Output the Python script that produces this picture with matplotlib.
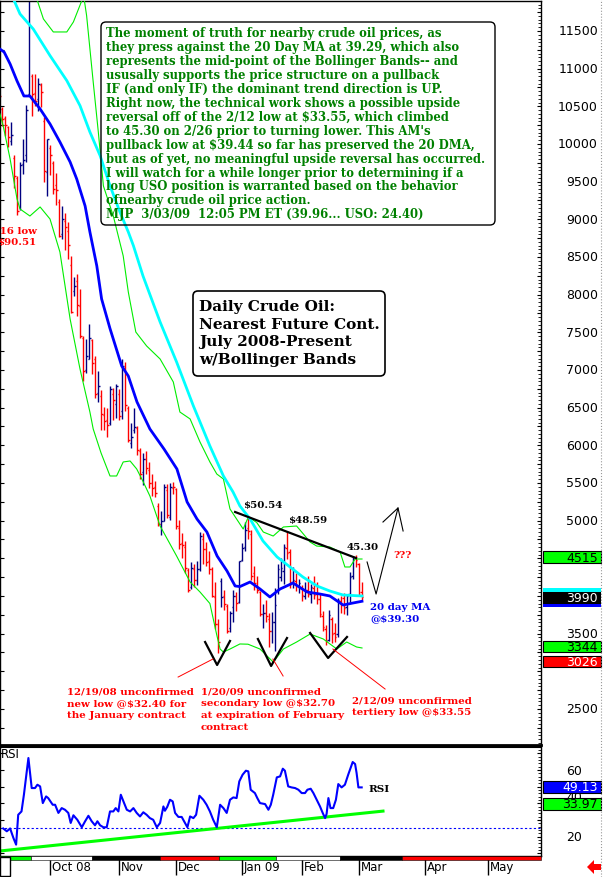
import matplotlib
matplotlib.use("Agg")
import matplotlib.pyplot as plt
from matplotlib.patches import FancyBboxPatch, Rectangle, Polygon
from matplotlib.lines import Line2D
from matplotlib.ticker import MultipleLocator
from matplotlib.transforms import blended_transform_factory, IdentityTransform
import numpy as np

W, H = 603, 878

# daily bars 9/08/08 .. 3/03/09, nearest crude oil future ($/bbl)
opens = [107.9, 104.6, 103.5, 102.3, 100.4, 98.2, 95.5, 91.6, 97.3, 98.5,
         106.6, 109.0, 106.8, 106.0, 107.8, 103.0, 96.3, 99.5, 97.5, 94.5,
         92.3, 88.0, 89.8, 88.5, 84.0, 80.5, 81.8, 78.5, 74.3, 70.0,
         71.5, 74.0, 71.5, 66.9, 66.5, 64.0, 63.3, 63.0, 66.8, 65.5,
         66.8, 64.5, 70.3, 65.0, 60.3, 62.0, 62.3, 59.2, 56.4, 58.2,
         56.7, 55.0, 54.5, 51.9, 49.5, 50.0, 54.1, 50.5, 54.4, 54.2,
         49.0, 47.0, 46.5, 43.5, 41.2, 43.6, 42.1, 43.6, 47.6, 46.3,
         44.6, 43.6, 39.9, 36.3, 42.0, 40.0, 38.7, 35.8, 38.5, 40.0,
         39.2, 44.8, 46.5, 49.0, 48.2, 43.1, 41.5, 40.5, 37.6, 37.8,
         37.0, 35.3, 36.6, 40.8, 42.5, 43.3, 46.4, 45.9, 41.8, 42.0,
         41.3, 41.1, 40.0, 40.8, 40.2, 41.1, 40.2, 39.6, 37.4, 35.6,
         34.2, 37.0, 35.1, 34.9, 39.3, 39.7, 38.5, 40.3, 42.6, 45.0,
         44.3, 40.5]
highs = [108.8, 104.9, 103.7, 102.4, 102.9, 98.5, 95.8, 97.6, 100.6, 105.2,
         130.0, 109.3, 109.3, 108.7, 108.1, 103.6, 100.7, 99.8, 97.8, 96.2,
         92.7, 91.8, 90.9, 89.6, 85.1, 82.4, 82.7, 80.7, 74.5, 74.1,
         76.1, 74.1, 71.9, 69.8, 67.3, 65.1, 64.9, 67.9, 67.6, 68.1,
         67.5, 71.4, 71.0, 65.2, 63.0, 65.0, 62.6, 59.6, 59.0, 59.3,
         57.8, 56.2, 55.2, 52.3, 51.3, 54.8, 54.9, 55.0, 55.1, 54.4,
         50.1, 48.4, 47.3, 43.7, 44.5, 44.3, 44.7, 48.5, 48.4, 47.2,
         46.0, 43.8, 41.9, 36.9, 42.4, 40.8, 39.0, 38.0, 40.8, 40.5,
         44.7, 47.1, 49.8, 50.54, 48.7, 44.0, 42.6, 40.6, 38.9, 39.5,
         37.7, 37.9, 41.0, 44.2, 45.0, 46.9, 48.59, 46.2, 43.8, 43.0,
         42.3, 41.4, 41.9, 42.7, 41.6, 42.6, 41.9, 40.3, 38.0, 36.2,
         38.1, 37.2, 36.4, 39.7, 40.0, 40.4, 40.3, 43.2, 45.30, 45.4,
         44.4, 41.9]
lows = [104.6, 102.4, 101.1, 99.6, 99.8, 94.1, 90.51, 91.3, 96.0, 97.6,
        106.4, 103.7, 105.0, 104.4, 104.9, 95.0, 93.1, 95.9, 93.4, 91.9,
        87.6, 87.4, 85.9, 84.7, 77.6, 79.8, 77.2, 74.3, 68.6, 69.6,
        71.4, 69.5, 66.3, 65.8, 62.0, 62.0, 61.1, 62.7, 63.3, 63.6,
        63.4, 63.5, 64.6, 60.5, 59.7, 61.6, 58.7, 55.5, 54.7, 56.2,
        54.3, 53.3, 53.1, 49.3, 48.1, 49.9, 50.3, 50.1, 53.5, 48.9,
        46.2, 45.1, 43.1, 40.5, 40.9, 41.2, 41.5, 43.3, 44.2, 44.0,
        42.9, 39.9, 35.6, 32.40, 38.6, 38.2, 35.1, 35.2, 36.5, 38.0,
        39.1, 44.6, 46.0, 47.5, 42.1, 40.8, 40.4, 37.3, 35.8, 36.6,
        33.2, 33.7, 32.70, 40.3, 42.0, 41.6, 44.9, 41.1, 41.0, 40.6,
        40.4, 39.4, 39.6, 39.8, 39.1, 39.6, 38.9, 37.2, 35.3, 33.55,
        34.0, 33.7, 33.9, 34.5, 37.7, 37.6, 37.5, 39.2, 42.3, 43.8,
        40.0, 39.44]
closes = [106.34, 103.26, 102.58, 100.87, 101.18, 95.71, 91.15, 97.16, 97.88, 104.55,
          120.92, 106.61, 105.73, 108.02, 106.89, 96.37, 100.64, 98.53, 93.97, 93.88,
          87.81, 90.06, 88.95, 86.59, 77.70, 81.19, 78.63, 74.54, 69.85, 71.85,
          74.25, 70.89, 66.75, 67.84, 64.15, 63.22, 62.73, 67.50, 65.96, 67.81,
          63.91, 70.53, 65.30, 60.77, 61.04, 62.41, 59.33, 56.16, 58.24, 57.04,
          54.95, 54.39, 53.62, 49.62, 49.93, 54.50, 50.77, 54.44, 54.43, 49.28,
          46.96, 46.79, 43.67, 40.81, 43.71, 42.07, 43.52, 47.98, 46.28, 44.51,
          43.60, 40.06, 36.22, 33.87, 39.91, 38.98, 35.35, 37.71, 40.02, 39.03,
          44.60, 46.34, 48.81, 48.58, 42.63, 41.70, 40.83, 37.59, 37.78, 37.28,
          35.40, 36.51, 38.74, 43.55, 43.67, 46.47, 45.73, 41.58, 42.16, 41.44,
          41.68, 40.08, 40.78, 40.32, 41.17, 40.17, 39.56, 37.55, 35.94, 33.98,
          37.51, 34.93, 34.62, 39.48, 38.94, 38.44, 39.96, 42.50, 45.22, 44.76,
          40.15, 39.90]

# indicator lines: bar index -> value (chart units)
ma20_idx = [0.3, 1.7, 3.7, 6.0, 8.3, 10.3, 13.7, 17.0, 20.3, 23.7, 25.9, 28.7, 30.3,
            32.6, 34.2, 37.0, 40.9, 43.1, 46.0, 50.3, 55.0, 59.3, 62.7, 66.0, 69.3,
            72.7, 76.0, 78.7, 80.3, 83.7, 87.0, 90.3, 93.7, 98.0, 102.7, 107.0,
            110.3, 114.7, 118.0, 121.0]
ma20_val = [11260, 11221, 11062, 10837, 10637, 10637, 10465, 10266, 10027, 9761, 9536,
            9177, 8832, 8381, 7943, 7550, 7053, 6920, 6575, 6217, 5951, 5686, 5248,
            5022, 4849, 4531, 4332, 4133, 4125, 4186, 4093, 3987, 4093, 4172, 4053,
            4026, 4000, 3880, 3907, 3930]

ma50_idx = [0.3, 4.8, 7.0, 11.4, 17.0, 22.6, 27.0, 30.3, 33.7, 37.0, 40.3, 43.1,
            44.8, 48.0, 53.7, 59.2, 64.8, 70.3, 74.8, 78.0, 80.3, 83.7, 88.0, 92.7,
            97.0, 101.3, 106.0, 110.3, 114.7, 121.0]
ma50_val = [12300, 11925, 11726, 11527, 11173, 10841, 10509, 10159, 9845, 9447, 9097,
            8832, 8650, 8248, 7637, 7106, 6522, 5991, 5593, 5381, 5195, 5022, 4730,
            4518, 4385, 4252, 4133, 4066, 4013, 4000]

bb_up_idx = [0.3, 6.0, 11.0, 12.6, 14.8, 18.1, 22.6, 24.8, 27.6, 28.1, 29.2, 31.4,
             33.1, 34.8, 38.1, 41.4, 43.1, 45.6, 49.2, 53.7, 58.1, 60.3, 63.7, 67.0,
             70.3, 72.6, 74.8, 77.0, 79.2, 81.4, 83.1, 85.9, 88.1, 91.4, 94.8, 99.2,
             100.9, 103.7, 105.9, 110.3, 113.7, 115.3, 117.0, 118.7, 121.0]
bb_up_val = [12600, 12400, 12050, 11925, 11660, 11487, 11487, 11620, 11903, 12000,
             11704, 10823, 10160, 9443, 9044, 8514, 8035, 7504, 7319, 7146, 6841, 6442,
             6350, 6044, 5779, 5619, 5553, 5155, 5022, 4889, 5048, 4976, 4849, 4796,
             4916, 4929, 4849, 4716, 4663, 4650, 4584, 4385, 4385, 4491, 4491]

bb_lo_idx = [0.3, 1.4, 3.7, 6.0, 7.0, 10.3, 13.7, 17.0, 20.3, 23.7, 27.0, 30.3, 31.4,
             34.0, 37.0, 39.2, 41.4, 43.7, 45.9, 48.1, 50.3, 53.7, 59.2, 63.7, 67.0,
             70.3, 72.6, 73.7, 74.8, 77.0, 80.3, 83.0, 87.0, 91.4, 94.8, 99.2, 103.7,
             108.1, 112.6, 115.9, 119.2, 121.0]
bb_lo_val = [10400, 10239, 9801, 9270, 9137, 9044, 9164, 9004, 8566, 7677, 7013, 6442,
             6217, 5900, 5593, 5593, 5779, 5792, 5686, 5513, 5327, 4929, 4531, 4186,
             4053, 3900, 3480, 3296, 3256, 3296, 3363, 3360, 3296, 3123, 3296, 3389,
             3495, 3429, 3296, 3389, 3323, 3310]

rsi_idx = [1.4, 2.6, 3.7, 4.8, 5.7, 6.4, 7.5, 8.3, 9.8, 10.9, 12.0, 12.8, 13.7, 14.6,
           15.7, 16.4, 17.9, 18.7, 19.8, 20.9, 22.0, 23.1, 23.9, 24.8, 26.1, 27.6,
           28.7, 29.8, 30.9, 32.0, 32.8, 33.7, 34.8, 35.9, 37.0, 38.1, 38.9, 39.8,
           40.6, 41.7, 42.6, 43.7, 44.8, 45.9, 47.0, 48.1, 49.2, 50.3, 51.4, 52.6,
           53.7, 54.8, 55.3, 56.1, 57.0, 57.9, 58.7, 59.8, 60.9, 62.0, 62.8, 63.7,
           64.8, 65.7, 66.8, 68.1, 69.2, 70.3, 71.4, 72.6, 73.7, 74.8, 75.9, 77.0,
           78.1, 79.2, 80.1, 81.2, 82.3, 83.1, 83.9, 85.3, 86.1, 87.0, 88.7, 89.8,
           90.6, 91.4, 92.6, 93.7, 94.6, 95.3, 96.4, 97.5, 98.7, 99.8, 100.9, 102.0,
           102.8, 103.9, 104.8, 105.9, 107.0, 107.9, 108.7, 109.2, 109.8, 110.5,
           111.4, 112.3, 113.1, 114.2, 115.3, 116.4, 117.9, 118.7, 119.2, 119.8, 120.9]
rsi_val = [25.0, 23.3, 25.0, 19.3, 15.3, 33.2, 35.2, 45.2, 67.2, 49.2, 49.2, 51.2, 50.2,
           40.2, 44.2, 43.2, 39.2, 39.2, 34.3, 37.2, 36.2, 34.3, 28.3, 32.9, 30.2, 25.7,
           29.3, 32.6, 29.3, 26.9, 29.3, 26.9, 25.7, 25.7, 35.2, 35.2, 37.2, 35.2, 45.2,
           40.2, 36.2, 35.2, 37.2, 34.3, 32.2, 34.7, 33.2, 31.2, 30.2, 25.7, 28.3, 38.2,
           35.6, 38.0, 42.2, 41.2, 34.3, 31.9, 31.9, 28.3, 25.7, 32.2, 31.2, 33.2, 44.6,
           42.2, 39.2, 35.2, 30.2, 25.7, 39.2, 37.2, 34.3, 42.2, 43.6, 43.2, 53.2, 57.2,
           59.6, 59.2, 48.2, 46.2, 43.2, 40.2, 39.6, 36.2, 39.2, 45.2, 55.6, 56.2, 60.8,
           59.6, 50.2, 49.6, 49.2, 48.2, 46.2, 46.2, 48.2, 48.8, 46.2, 42.2, 38.2, 34.3,
           31.2, 33.7, 43.2, 37.2, 37.2, 42.2, 51.6, 49.6, 51.2, 57.2, 64.8, 63.6, 58.2,
           49.6, 49.6]

month_names = ["Oct 08", "Nov", "Dec", "Jan 09", "Feb", "Mar", "Apr", "May"]
month_idx = [17, 40, 59, 81, 101, 120, 142, 163]
price_ticks = [2500, 3500, 5000, 5500, 6000, 6500, 7000, 7500, 8000, 8500, 9000,
               9500, 10000, 10500, 11000, 11500]
rsi_ticks = [20, 40, 60]
# contract roll bands along the date axis
roll_idx = [0.33, 10.5, 31, 53.5, 73.2, 92.3, 113.8, 134.3, 180.67]
roll_colors = ["#00ff00", "white", "black", "red", "#00ff00", "white", "black", "red"]

SERIF = "DejaVu Serif"
SANS = "DejaVu Sans"


def px(x, y):
    # pixel position (from top-left) -> figure fraction
    return x / W, 1 - y / H


def put(x, y, s, **kw):
    fx, fy = px(x, y)
    kw.setdefault("va", "center")
    kw.setdefault("ha", "left")
    return fig.text(fx, fy, s, parse_math=False, **kw)


def pbox(x0, y0, x1, y1, **kw):
    # box in pixel coords
    r = Rectangle((x0, H - y1), x1 - x0, y1 - y0, transform=IdentityTransform(), **kw)
    fig.add_artist(r)
    return r


fig = plt.figure(figsize=(W / 100, H / 100), dpi=100)
fig.patch.set_facecolor("white")

ax = fig.add_axes([0, 1 - 746 / H, 541 / W, 744 / H])
ax2 = fig.add_axes([0, 1 - 857 / H, 541 / W, 109 / H])
for a in (ax, ax2):
    a.set_xlim(0.33, 180.67)
    a.set_facecolor("white")
ax.set_ylim(2022, 11898)
ax2.set_ylim(8.5, 73.8)

# ---- price bars ----
idx = np.arange(len(closes))
o = np.array(opens) * 100
h = np.array(highs) * 100
l = np.array(lows) * 100
c = np.array(closes) * 100
cols = ["#ff0000" if (i == 0 or c[i] < c[i - 1]) else "#000080" for i in idx]
ax.vlines(idx, l, h, colors=cols, lw=1.0, zorder=2)
ax.hlines(o, idx - 0.5, idx, colors=cols, lw=1.0, zorder=2)
ax.hlines(c, idx, idx + 0.5, colors=cols, lw=1.0, zorder=2)

ax.plot(bb_up_idx, bb_up_val, color="#00ee00", lw=0.8, zorder=3)
ax.plot(bb_lo_idx, bb_lo_val, color="#00ee00", lw=0.8, zorder=3)
ax.plot(ma50_idx, ma50_val, color="#00ffff", lw=2.0, zorder=3)
ax.plot(ma20_idx, ma20_val, color="#0000ff", lw=2.0, zorder=4)

# trend line over the highs, and the hand drawn marks
ax.plot([78.7, 119.0], [5115, 4504], color="black", lw=1.6, zorder=5)
ax.plot([122.7, 125.7, 133.0], [4451, 4026, 5168], color="black", lw=0.8, zorder=5)
ax.plot([128.0, 133.0, 134.7], [4982, 5168, 4863], color="black", lw=0.8, zorder=5)
for vx, vy in [([68.7, 72.7, 77.0], [3389, 3084, 3403]),
               ([86.3, 90.7, 96.0], [3429, 3071, 3442]),
               ([103.7, 109.7, 116.0], [3509, 3177, 3456])]:
    ax.plot(vx, vy, color="black", lw=1.6, zorder=5)
for lx, ly in [([71.3, 59.7], [3163, 2924]), ([91.3, 94.7], [3163, 2938]),
               ([111.3, 128.7], [3296, 2765])]:
    ax.plot(lx, ly, color="red", lw=0.7, zorder=5)

# ---- RSI ----
ax2.plot(rsi_idx, rsi_val, color="#0000ff", lw=1.5, zorder=3)
ax2.plot([0.33, 128], [11.5, 35.4], color="#00ff00", lw=2.2, zorder=2)
ax2.axhline(25, color="#0000ff", lw=0.8, ls=(0, (2, 2)), zorder=1)

# axes cosmetics
for a in (ax, ax2):
    for s in a.spines.values():
        s.set_color("black")
        s.set_linewidth(1.0)
ax.spines["bottom"].set_linewidth(2.0)
ax2.spines["top"].set_linewidth(1.5)
ax.set_xticks([])
ax.set_yticks(np.arange(2250, 11900, 250))
ax.yaxis.set_minor_locator(MultipleLocator(50))
ax.tick_params(axis="y", direction="in", length=3, left=True, right=True,
               labelleft=False, labelright=False)
ax.tick_params(axis="y", which="minor", direction="in", length=2, left=False, right=True)
ax2.set_yticks(np.arange(10, 71, 10))
ax2.yaxis.set_minor_locator(MultipleLocator(2))
ax2.tick_params(axis="y", direction="in", length=3, left=True, right=True,
                labelleft=False, labelright=False)
ax2.tick_params(axis="y", which="minor", direction="in", length=2, left=False, right=True)
ax2.set_xticks(month_idx)
ax2.set_xticklabels([])
ax2.tick_params(axis="x", direction="out", length=14, width=1.0)

tr = blended_transform_factory(fig.transFigure, ax.transData)
for v in price_ticks:
    ax.text(598 / W, v, str(v), transform=tr, ha="right", va="center",
            fontsize=9, family=SANS)
tr2 = blended_transform_factory(fig.transFigure, ax2.transData)
for v in rsi_ticks:
    # the 40 label sits squeezed between the two value boxes
    ax2.text(582 / W, v, str(v), transform=tr2, ha="right",
             va="bottom" if v == 40 else "center", fontsize=9, family=SANS)

trm = blended_transform_factory(ax2.transData, fig.transFigure)
for name, m in zip(month_names, month_idx):
    ax2.text(m + 0.6, 1 - 868 / H, name, transform=trm, ha="left", va="center",
             fontsize=8.5, family=SANS)

# contract band under the RSI pane
trb = blended_transform_factory(ax2.transData, ax2.transAxes)
for x0, x1, cc in zip(roll_idx[:-1], roll_idx[1:], roll_colors):
    ax2.add_patch(Rectangle((x0, -0.035), x1 - x0, 0.035, transform=trb, facecolor=cc,
                            edgecolor="black", lw=0.4, clip_on=False, zorder=5))
pbox(0, 858, 10, 877, facecolor="white", edgecolor="black", lw=1.0)

# ---- value boxes at the right ----
pbox(543, 552, 601, 564, facecolor="#00ff00", edgecolor="black", lw=0.8)
put(598, 558, "4515", ha="right", fontsize=9, family=SANS)
pbox(543, 589, 601, 593, facecolor="#00ffff", edgecolor="none")
pbox(543, 593, 601, 605, facecolor="black", edgecolor="none")
pbox(543, 605, 601, 608, facecolor="#0000ff", edgecolor="none")
put(598, 599, "3990", ha="right", fontsize=9, family=SANS, color="white")
pbox(543, 642, 601, 653, facecolor="#00ff00", edgecolor="black", lw=0.8)
put(598, 647.5, "3344", ha="right", fontsize=9, family=SANS)
pbox(543, 657, 601, 668, facecolor="#ff0000", edgecolor="black", lw=0.8)
put(598, 662.5, "3026", ha="right", fontsize=9, family=SANS, color="white")
pbox(543, 782, 601, 794, facecolor="#0000ff", edgecolor="black", lw=0.8)
put(598, 788, "49.13", ha="right", fontsize=9, family=SANS, color="white")
pbox(543, 799, 601, 811, facecolor="#00ff00", edgecolor="black", lw=0.8)
put(598, 805, "33.97", ha="right", fontsize=9, family=SANS)

arrow = Polygon([px(587, 868), px(594, 861), px(594, 865), px(601, 865),
                 px(601, 871), px(594, 871), px(594, 875)], closed=True,
                transform=fig.transFigure, facecolor="red", edgecolor="none")
fig.add_artist(arrow)
fig.add_artist(Line2D([601 / W, 601 / W], [0, 1], color="#999999", lw=0.8, ls=":"))

put(1, 755, "RSI", fontsize=8.5, family=SANS)
put(368, 789, "RSI", fontsize=7.5, family=SERIF, weight="bold")

# ---- commentary box ----
note_lines = [
    "The moment of truth for nearby crude oil prices, as",
    "they press against the 20 Day MA at 39.29, which also",
    "represents the mid-point of the Bollinger Bands-- and",
    "ususally supports the price structure on a pullback",
    "IF (and only IF) the dominant trend direction is UP.",
    "Right now, the technical work shows a possible upside",
    "reversal off of the 2/12 low at $33.55, which climbed",
    "to 45.30 on 2/26 prior to turning lower. This AM's",
    "pullback low at $39.44 so far has preserved the 20 DMA,",
    "but as of yet, no meaningful upside reversal has occurred.",
    "I will watch for a while longer prior to determining if a",
    "long USO position is warranted based on the behavior",
    "ofnearby crude oil price action.",
    "MJP  3/03/09  12:05 PM ET (39.96... USO: 24.40)",
]
fig.add_artist(FancyBboxPatch((101, H - 226), 394, 203, boxstyle="round,pad=0,rounding_size=5",
                              transform=IdentityTransform(), facecolor="none",
                              edgecolor="black", lw=1.0))
for k, s in enumerate(note_lines):
    put(106, 34 + k * 13.9, s, fontsize=8.4, family=SERIF, weight="bold", color="#008000")

title_lines = ["Daily Crude Oil:", "Nearest Future Cont.", "July 2008-Present",
               "w/Bollinger Bands"]
fig.add_artist(FancyBboxPatch((193, H - 377), 192, 85, boxstyle="round,pad=0,rounding_size=5",
                              transform=IdentityTransform(), facecolor="white",
                              edgecolor="black", lw=1.2))
for k, s in enumerate(title_lines):
    put(199, 307 + k * 17.6, s, fontsize=11, family=SERIF, weight="bold")

# ---- chart notes ----
put(37, 231, "9/16 low", ha="right", fontsize=7.4, family=SERIF, weight="bold", color="red")
put(36, 243, "$90.51", ha="right", fontsize=7.4, family=SERIF, weight="bold", color="red")
put(243, 506, "$50.54", fontsize=7.4, family=SERIF, weight="bold")
put(288, 521, "$48.59", fontsize=7.4, family=SERIF, weight="bold")
put(347, 548, "45.30", fontsize=7.4, family=SERIF, weight="bold")
put(393, 556, "???", fontsize=7.4, family=SERIF, weight="bold", color="red")
put(370, 607, "20 day MA", fontsize=7.4, family=SERIF, weight="bold", color="#0000ee")
put(370, 619, "@$39.30", fontsize=7.4, family=SERIF, weight="bold", color="#0000ee")

for k, s in enumerate(["12/19/08 unconfirmed", "new low @$32.40 for", "the January contract"]):
    put(67, 692 + k * 12, s, fontsize=7.35, family=SERIF, weight="bold", color="red")
for k, s in enumerate(["1/20/09 unconfirmed", "secondary low @$32.70",
                       "at expiration of February", "contract"]):
    put(201, 692 + k * 12, s, fontsize=7.35, family=SERIF, weight="bold", color="red")
for k, s in enumerate(["2/12/09 unconfirmed", "tertiery low @$33.55"]):
    put(352, 701 + k * 11.5, s, fontsize=7.35, family=SERIF, weight="bold", color="red")

fig.savefig("out.png", dpi=100)
